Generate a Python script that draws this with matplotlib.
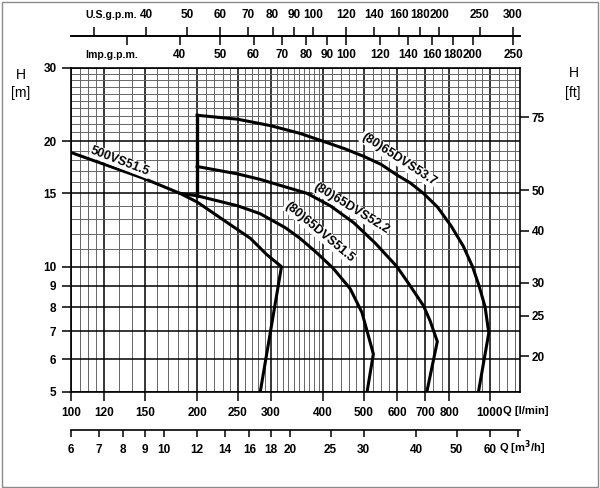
import matplotlib
matplotlib.use('Agg')
import matplotlib.pyplot as plt
import matplotlib.ticker as mticker
from matplotlib.patches import Rectangle

plt.rcParams['font.family'] = ['Liberation Sans', 'DejaVu Sans']
plt.rcParams['font.weight'] = 'bold'

# pump curves, flow Q [l/min] against head H [m]
q_500vs515 = [100, 149, 182, 200, 249, 268, 293, 318, 283]
h_500vs515 = [18.8, 16.3, 15.0, 14.3, 12.3, 11.7, 10.7, 10.0, 5.0]

q_65dvs515 = [182, 200, 250, 283, 325, 352, 386, 423, 464, 495, 527, 509]
h_65dvs515 = [15.0, 14.8, 14.0, 13.4, 12.4, 11.7, 10.8, 9.9, 8.85, 7.76, 6.17, 5.0]

q_65dvs522 = [200, 250, 283, 321, 366, 416, 473, 532, 600, 645, 694, 720, 749, 707]
h_65dvs522 = [17.4, 16.7, 16.2, 15.6, 15.0, 14.0, 12.75, 11.4, 10.0, 9.0, 8.06, 7.41, 6.61, 5.0]

q_65dvs537 = [200, 250, 300, 352, 400, 450, 500, 550, 600, 645, 694, 750, 809, 864, 909,
              942, 974, 994, 939]
h_65dvs537 = [23.1, 22.6, 21.8, 20.9, 20.0, 19.2, 18.4, 17.6, 16.6, 15.9, 15.0, 13.9, 12.5,
              11.2, 10.0, 9.0, 8.0, 6.93, 5.0]

# left edge of the 65DVS family at Q = 200
q_edge = [200, 200]
h_edge = [14.8, 23.1]

curve_names = ['500VS51.5', '(80)65DVS51.5', '(80)65DVS52.2', '(80)65DVS53.7']
label_q = [131, 392, 466, 606]
label_h = [17.9, 12.1, 13.8, 18.1]
label_rot = [-21, -40, -31.5, -33]

# axis scales
q_major = [100, 120, 150, 200, 250, 300, 400, 500, 600, 700, 800, 1000]
q_minor = ([105, 110, 115, 130, 140, 160, 170, 180, 190]
           + [210, 220, 230, 240, 260, 270, 280, 290]
           + [310, 320, 330, 340, 350, 360, 370, 380, 390]
           + [420, 440, 460, 480, 525, 550, 575, 633, 667, 733, 767]
           + [840, 880, 920, 960, 1050, 1100, 1150])
h_major = [5, 6, 7, 8, 9, 10, 15, 20, 30]
h_minor = [11, 12, 13, 14, 16, 17, 18, 19, 21, 22, 23, 24, 25, 26, 27, 28, 29]
ft_ticks = [20, 25, 30, 40, 50, 75]
us_ticks = [30, 40, 50, 60, 70, 80, 90, 100, 120, 140, 160, 180, 200, 250, 300]
us_labels = ['', '40', '50', '60', '70', '80', '90', '100', '120', '140', '160', '180', '200', '250', '300']
imp_ticks = [30, 40, 50, 60, 70, 80, 90, 100, 120, 140, 160, 180, 200, 250]
imp_labels = ['', '40', '50', '60', '70', '80', '90', '100', '120', '140', '160', '180', '200', '250']
m3h_ticks = [6, 7, 8, 9, 10, 12, 14, 16, 18, 20, 25, 30, 40, 50, 60, 70]
m3h_labels = ['6', '7', '8', '9', '10', '12', '14', '16', '18', '20', '25', '30', '40', '50', '60', '']

Q_MIN, Q_MAX = 100, 1180
H_MIN, H_MAX = 5, 30
US_GPM = 3.785
IMP_GPM = 4.546
FT = 0.3048

W, H = 600, 488
left, right, bottom, top = 71 / W, 520 / W, 1 - 392 / H, 1 - 68 / H

fig = plt.figure(figsize=(6, 4.88), dpi=100)
ax = fig.add_axes([left, bottom, right - left, top - bottom])
ax.set_xscale('log')
ax.set_yscale('log')
ax.set_xlim(Q_MIN, Q_MAX)
ax.set_ylim(H_MIN, H_MAX)
ax.set_xticks(q_major, [str(v) for v in q_major])
ax.set_xticks(q_minor, minor=True)
ax.set_yticks(h_major, [str(v) for v in h_major])
ax.set_yticks(h_minor, minor=True)
ax.xaxis.set_minor_formatter(mticker.NullFormatter())
ax.yaxis.set_minor_formatter(mticker.NullFormatter())
ax.tick_params(which='major', length=6.5, width=1.1, labelsize=8.5)
ax.tick_params(axis='x', which='major', pad=4)
ax.tick_params(axis='y', which='major', pad=4)
ax.tick_params(which='minor', length=0)
ax.grid(which='major', color='black', lw=1.1)
ax.grid(which='minor', color='#666666', lw=0.7)
ax.set_axisbelow(True)
for s in ax.spines.values():
    s.set_linewidth(1.2)

curves = [(q_500vs515, h_500vs515), (q_65dvs515, h_65dvs515),
          (q_65dvs522, h_65dvs522), (q_65dvs537, h_65dvs537)]
for q, h in curves:
    ax.plot(q, h, color='black', lw=2.2, solid_joinstyle='round', zorder=3)
ax.plot(q_edge, h_edge, color='black', lw=2.4, zorder=3)

for name, q, h, r in zip(curve_names, label_q, label_h, label_rot):
    ax.text(q, h, name, rotation=r, rotation_mode='anchor', ha='center', va='center',
            fontsize=9, zorder=4,
            bbox=dict(facecolor='white', edgecolor='none', pad=0.5))

# head in feet on the right
axr = ax.twinx()
axr.set_yscale('log')
axr.set_ylim(H_MIN / FT, H_MAX / FT)
axr.set_yticks(ft_ticks, [str(v) for v in ft_ticks])
axr.yaxis.set_minor_locator(mticker.NullLocator())
axr.tick_params(length=6.5, width=1.1, labelsize=8.5, pad=2)
for s in axr.spines.values():
    s.set_visible(False)


def flow_strip(y_px, factor, ticks, labels, side):
    a = fig.add_axes([left, 1 - y_px / H, right - left, 1e-4])
    a.set_xscale('log')
    a.set_xlim(Q_MIN / factor, Q_MAX / factor)
    a.set_yticks([])
    a.patch.set_visible(False)
    for k, s in a.spines.items():
        s.set_visible(k == side)
        s.set_linewidth(1.2)
    a.xaxis.set_ticks_position(side)
    a.xaxis.set_label_position(side)
    a.set_xticks(ticks, labels)
    a.xaxis.set_minor_locator(mticker.NullLocator())
    a.tick_params(axis='x', length=6.5, width=1.1, labelsize=8.5, pad=4)
    return a


a_us = flow_strip(36, US_GPM, us_ticks, us_labels, 'top')
a_imp = flow_strip(36, IMP_GPM, imp_ticks, imp_labels, 'bottom')
a_imp.tick_params(axis='x', pad=3)
a_m3h = flow_strip(430, 1000 / 60, m3h_ticks, m3h_labels, 'bottom')
a_m3h.tick_params(axis='x', length=5, pad=5)

fs = 8.5
fig.text(137 / W, 1 - 15 / H, 'U.S.g.p.m.', ha='right', va='center', fontsize=7.6)
fig.text(138 / W, 1 - 55 / H, 'Imp.g.p.m.', ha='right', va='center', fontsize=7.6)
fig.text(21 / W, 1 - 75 / H, 'H', ha='center', va='center', fontsize=10, weight='normal')
fig.text(21 / W, 1 - 93 / H, '[m]', ha='center', va='center', fontsize=10, weight='normal')
fig.text(574 / W, 1 - 73 / H, 'H', ha='center', va='center', fontsize=10, weight='normal')
fig.text(573 / W, 1 - 93 / H, '[ft]', ha='center', va='center', fontsize=10, weight='normal')
fig.text(503 / W, 1 - 411 / H, 'Q [l/min]', ha='left', va='center', fontsize=8)
fig.text(499 / W, 1 - 448 / H, r'Q [m$\mathbf{^3}$/h]', ha='left', va='center', fontsize=8)

fig.patches.append(Rectangle((0.003, 0.003), 0.994, 0.993, transform=fig.transFigure,
                             fill=False, edgecolor='#8a8a8a', lw=1))

fig.savefig('out.png', dpi=100)
